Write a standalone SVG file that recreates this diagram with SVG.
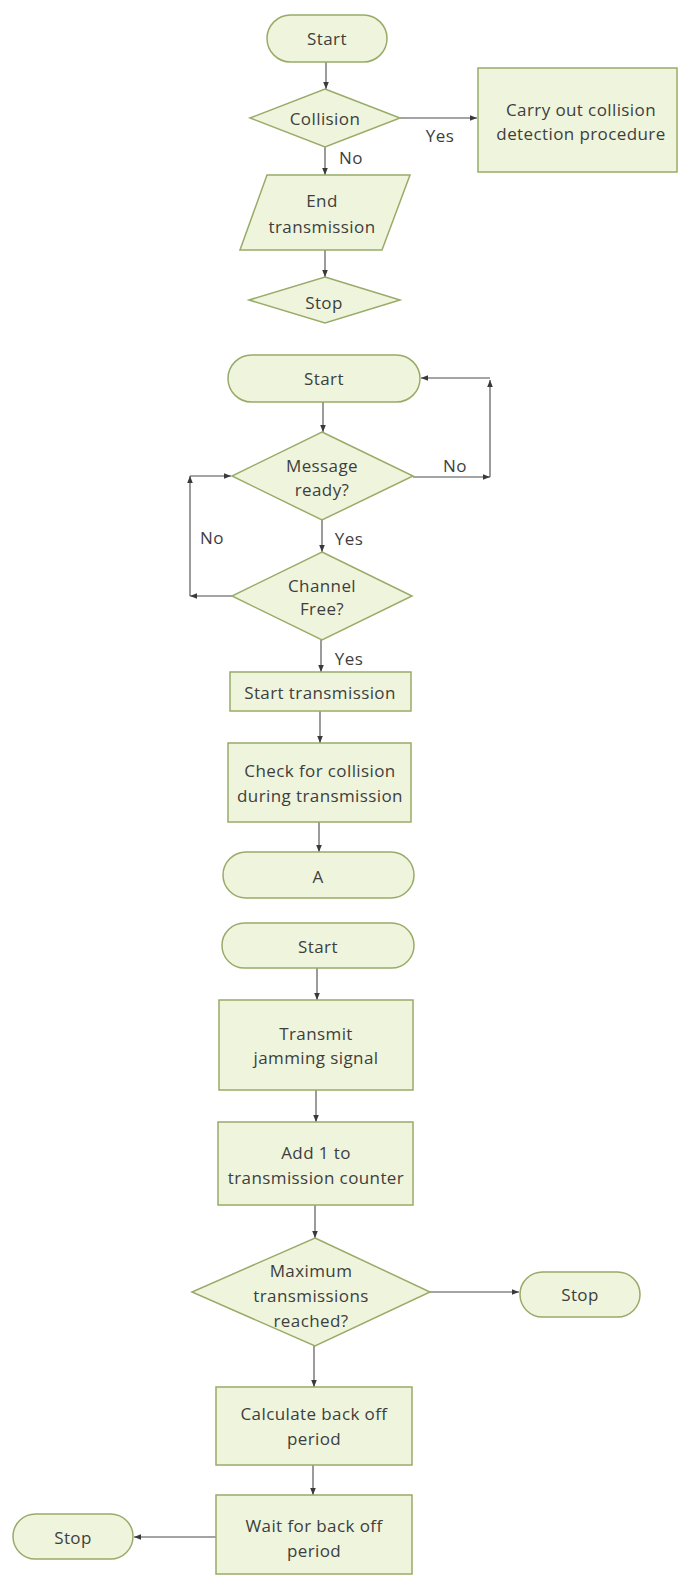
<svg xmlns="http://www.w3.org/2000/svg" width="678" height="1575" viewBox="0 0 678 1575">
  <style>
    .shape { fill: #eef5dc; stroke: #98ab68; stroke-width: 1.5; }
    .lbl { font-family: "Open Sans", "Noto Sans", "Liberation Sans", sans-serif; font-size: 17px; letter-spacing: 0.4px; fill: #3e3e3e; text-anchor: middle; dominant-baseline: central; }
    .edge { fill: none; stroke: #4a4a4a; stroke-width: 1.1; }
  </style>
  <defs>
    <marker id="arr" viewBox="0 0 10 10" refX="10" refY="5" markerWidth="7" markerHeight="7" orient="auto" markerUnits="userSpaceOnUse">
      <path d="M0,1 L10,5 L0,9 z" fill="#3a3a3a"/>
    </marker>
  </defs>
  <rect width="678" height="1575" fill="#ffffff"/>

  <!-- connectors -->
  <g id="connectors">
    <!-- flow 1 -->
    <line class="edge" x1="326" y1="62" x2="326" y2="89" marker-end="url(#arr)"/>
    <line class="edge" x1="400" y1="118" x2="477" y2="118" marker-end="url(#arr)"/>
    <line class="edge" x1="325" y1="147" x2="325" y2="175" marker-end="url(#arr)"/>
    <line class="edge" x1="325" y1="250" x2="325" y2="277" marker-end="url(#arr)"/>
    <!-- flow 2 -->
    <line class="edge" x1="323" y1="402" x2="323" y2="432" marker-end="url(#arr)"/>
    <line class="edge" x1="413" y1="477" x2="490" y2="477" marker-end="url(#arr)"/>
    <line class="edge" x1="490" y1="477" x2="490" y2="380" marker-end="url(#arr)"/>
    <line class="edge" x1="490" y1="378" x2="421" y2="378" marker-end="url(#arr)"/>
    <line class="edge" x1="322" y1="520" x2="322" y2="552" marker-end="url(#arr)"/>
    <line class="edge" x1="232" y1="596" x2="190" y2="596" marker-end="url(#arr)"/>
    <line class="edge" x1="190" y1="596" x2="190" y2="476" marker-end="url(#arr)"/>
    <line class="edge" x1="190" y1="476" x2="231" y2="476" marker-end="url(#arr)"/>
    <line class="edge" x1="321" y1="640" x2="321" y2="672" marker-end="url(#arr)"/>
    <line class="edge" x1="320" y1="711" x2="320" y2="743" marker-end="url(#arr)"/>
    <line class="edge" x1="319" y1="822" x2="319" y2="852" marker-end="url(#arr)"/>
    <!-- flow 3 -->
    <line class="edge" x1="317" y1="968" x2="317" y2="1000" marker-end="url(#arr)"/>
    <line class="edge" x1="316" y1="1090" x2="316" y2="1122" marker-end="url(#arr)"/>
    <line class="edge" x1="315" y1="1205" x2="315" y2="1238" marker-end="url(#arr)"/>
    <line class="edge" x1="430" y1="1292" x2="519" y2="1292" marker-end="url(#arr)"/>
    <line class="edge" x1="314" y1="1346" x2="314" y2="1387" marker-end="url(#arr)"/>
    <line class="edge" x1="313" y1="1465" x2="313" y2="1495" marker-end="url(#arr)"/>
    <line class="edge" x1="216" y1="1537" x2="134" y2="1537" marker-end="url(#arr)"/>
  </g>

  <!-- edge labels -->
  <g id="edge-labels">
    <text class="lbl" x="440" y="135">Yes</text>
    <text class="lbl" x="351" y="157">No</text>
    <text class="lbl" x="455" y="465">No</text>
    <text class="lbl" x="212" y="537">No</text>
    <text class="lbl" x="349" y="538">Yes</text>
    <text class="lbl" x="349" y="658">Yes</text>
  </g>

  <!-- flow 1 nodes -->
  <g id="start1">
    <rect class="shape" x="267" y="15" width="120" height="47" rx="23.5"/>
    <text class="lbl" x="327" y="38">Start</text>
  </g>
  <g id="collision">
    <polygon class="shape" points="325,89 400,118 325,147 250,118"/>
    <text class="lbl" x="325" y="118">Collision</text>
  </g>
  <g id="collision-procedure">
    <rect class="shape" x="478" y="68" width="199" height="104"/>
    <text class="lbl" x="581" y="109">Carry out collision</text>
    <text class="lbl" x="581" y="133">detection procedure</text>
  </g>
  <g id="end-transmission">
    <polygon class="shape" points="267,175 410,175 382,250 240,250"/>
    <text class="lbl" x="322" y="200">End</text>
    <text class="lbl" x="322" y="226">transmission</text>
  </g>
  <g id="stop1">
    <polygon class="shape" points="325,277 400,300 325,323 249,300"/>
    <text class="lbl" x="324" y="302">Stop</text>
  </g>

  <!-- flow 2 nodes -->
  <g id="start2">
    <rect class="shape" x="228" y="355" width="192" height="47" rx="23.5"/>
    <text class="lbl" x="324" y="378">Start</text>
  </g>
  <g id="message-ready">
    <polygon class="shape" points="322,432 413,476 322,520 232,476"/>
    <text class="lbl" x="322" y="465">Message</text>
    <text class="lbl" x="322" y="489">ready?</text>
  </g>
  <g id="channel-free">
    <polygon class="shape" points="322,552 412,596 322,640 232,596"/>
    <text class="lbl" x="322" y="585">Channel</text>
    <text class="lbl" x="322" y="608">Free?</text>
  </g>
  <g id="start-transmission">
    <rect class="shape" x="230" y="672" width="181" height="39"/>
    <text class="lbl" x="320" y="692">Start transmission</text>
  </g>
  <g id="check-collision">
    <rect class="shape" x="228" y="743" width="183" height="79"/>
    <text class="lbl" x="320" y="770">Check for collision</text>
    <text class="lbl" x="320" y="795">during transmission</text>
  </g>
  <g id="connector-a">
    <rect class="shape" x="223" y="852" width="191" height="46" rx="23"/>
    <text class="lbl" x="318" y="876">A</text>
  </g>

  <!-- flow 3 nodes -->
  <g id="start3">
    <rect class="shape" x="222" y="923" width="192" height="45" rx="22.5"/>
    <text class="lbl" x="318" y="946">Start</text>
  </g>
  <g id="transmit-jamming">
    <rect class="shape" x="219" y="1000" width="194" height="90"/>
    <text class="lbl" x="316" y="1033">Transmit</text>
    <text class="lbl" x="316" y="1057">jamming signal</text>
  </g>
  <g id="add-counter">
    <rect class="shape" x="218" y="1122" width="195" height="83"/>
    <text class="lbl" x="316" y="1152">Add 1 to</text>
    <text class="lbl" x="316" y="1177">transmission counter</text>
  </g>
  <g id="max-reached">
    <polygon class="shape" points="315,1238 430,1292 315,1346 192,1292"/>
    <text class="lbl" x="311" y="1270">Maximum</text>
    <text class="lbl" x="311" y="1295">transmissions</text>
    <text class="lbl" x="311" y="1320">reached?</text>
  </g>
  <g id="stop2">
    <rect class="shape" x="520" y="1272" width="120" height="45" rx="22.5"/>
    <text class="lbl" x="580" y="1294">Stop</text>
  </g>
  <g id="calc-backoff">
    <rect class="shape" x="216" y="1387" width="196" height="78"/>
    <text class="lbl" x="314" y="1413">Calculate back off</text>
    <text class="lbl" x="314" y="1438">period</text>
  </g>
  <g id="wait-backoff">
    <rect class="shape" x="216" y="1495" width="196" height="79"/>
    <text class="lbl" x="314" y="1525">Wait for back off</text>
    <text class="lbl" x="314" y="1550">period</text>
  </g>
  <g id="stop3">
    <rect class="shape" x="13" y="1514" width="120" height="45" rx="22.5"/>
    <text class="lbl" x="73" y="1537">Stop</text>
  </g>
</svg>
